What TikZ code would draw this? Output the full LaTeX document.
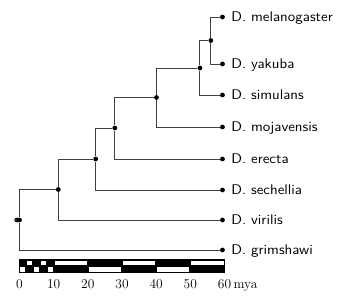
\documentclass[tikz,border=0pt]{standalone}
\usepackage{graphicx}
\usepackage{tikz}
\usetikzlibrary{positioning}

\begin{document}
\begin{tikzpicture}[x=3.417pt,y=-1pt,
    branch/.style={draw=black!75,line width=0.9pt},
    dotnode/.style={circle,fill=black,inner sep=0pt,minimum size=4.8pt},
    taxon/.style={anchor=base west,inner sep=0pt,font=\fontsize{14}{16}\sffamily},
    tick/.style={anchor=base,inner sep=0pt,font=\fontsize{13.5}{15}\selectfont}]
  \useasboundingbox (-5.707,0) rectangle (97.9,299);
  \node[dotnode] (mel) at (59.4,17) {};
  \node[dotnode] (yak) at (59.4,64) {};
  \node[dotnode] (sim) at (59.4,95) {};
  \node[dotnode] (moj) at (59.4,127) {};
  \node[dotnode] (ere) at (59.4,159) {};
  \node[dotnode] (sec) at (59.4,190) {};
  \node[dotnode] (vir) at (59.4,220) {};
  \node[dotnode] (gri) at (59.4,250) {};
  \foreach \n/\s in {mel/melanogaster,yak/yakuba,sim/simulans,moj/mojavensis,
      ere/erecta,sec/sechellia,vir/virilis,gri/grimshawi}
    \node[taxon] (\n-lab) at ([xshift=6pt,yshift=-4.8pt]\n.east) {\scalebox{1.09}[1]{D.\ \s}};
  \node[dotnode] (melyak) at (56.0,40.5) {};
  \node[dotnode] (msim) at (52.8,68) {};
  \node[dotnode] (mmoj) at (40.1,97.5) {};
  \node[dotnode] (mere) at (27.9,128) {};
  \node[dotnode] (msec) at (22.3,159) {};
  \node[dotnode] (mvir) at (11.35,189.5) {};
  \node[dotnode] (root) at (0,220) {};
  \node[dotnode] (stem) at (-0.75,220) {};
  \draw[branch] (melyak) |- (mel);
  \draw[branch] (melyak) |- (yak);
  \draw[branch] (msim) |- (melyak);
  \draw[branch] (msim) |- (sim);
  \draw[branch] (mmoj) |- (msim);
  \draw[branch] (mmoj) |- (moj);
  \draw[branch] (mere) |- (mmoj);
  \draw[branch] (mere) |- (ere);
  \draw[branch] (msec) |- (mere);
  \draw[branch] (msec) |- (sec);
  \draw[branch] (mvir) |- (msec);
  \draw[branch] (mvir) |- (vir);
  \draw[branch] (root) |- (mvir);
  \draw[branch] (root) |- (gri);
  \draw[branch] (stem) -- (root);
  \fill[black] (0,259) rectangle (60,273.3);
  \foreach \a/\b in {2/4,6/8,10/20,30/40,50/60}
    \fill[white] (\a+0.25,260.7) rectangle (\b-0.25,265);
  \foreach \a/\b in {0/2,4/6,8/10,20/30,40/50}
    \fill[white] (\a+0.25,266.7) rectangle (\b-0.25,271.7);
  \foreach \t in {0,10,...,60}
    \node[tick] (t\t) at (\t,288.5) {\t};
  \node[tick,anchor=base west] (mya) at ([xshift=2pt]t60.base east) {mya};
\end{tikzpicture}
\end{document}
